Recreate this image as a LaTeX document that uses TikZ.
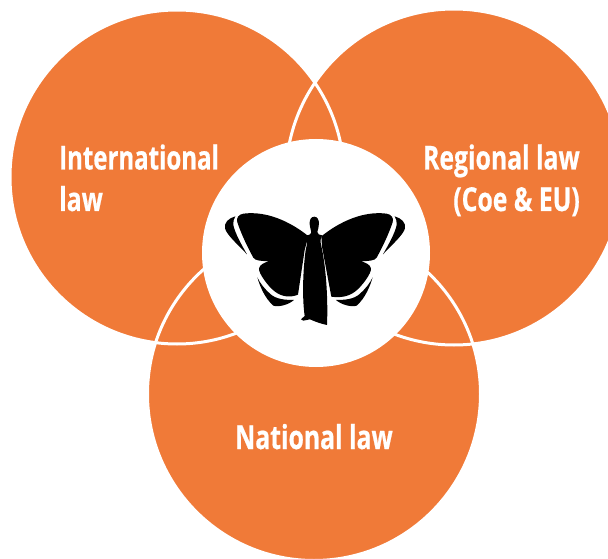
\documentclass[tikz,border=0pt]{standalone}
\usepackage{fontspec}
\setmainfont[FakeStretch=0.75,BoldFeatures={FakeBold=0.6}]{Open Sans}
\definecolor{lawor}{HTML}{F07A38}
\tikzset{
  lawcircle/.style={fill=lawor,draw=none},
  lawarc/.style={draw=white,line width=3pt},
  lawlabel/.style={text=white,font=\bfseries\fontsize{33}{40}\selectfont,inner sep=0pt},
  wing/.style={fill=black,draw=none}
}
% #1 lower end of the wing's inner edge, #2 upper end
\newcommand{\halfwings}[2]{%
  \fill[wing] (292,136) .. controls (240,95) and (170,62) .. (100,71)
    .. controls (85,73) and (78,85) .. (82,97)
    .. controls (95,135) and (112,170) .. (130,203)
    .. controls (135,212) and (155,214) .. (178,213)
    .. controls (165,218) and (150,222) .. (147,235)
    .. controls (145,250) and (175,290) .. (195,305)
    .. controls (215,320) and (240,324) .. (#1)
    -- (#2) -- (296,136) -- cycle;
  \fill[wing] (76,79) .. controls (55,85) and (42,98) .. (45,115)
    .. controls (50,135) and (85,165) .. (111,193)
    .. controls (95,165) and (75,130) .. (70,105)
    .. controls (69,95) and (71,87) .. (76,79) -- cycle;
  \fill[wing] (142,262) .. controls (150,290) and (165,325) .. (190,347)
    .. controls (205,352) and (235,345) .. (252,330)
    .. controls (225,330) and (200,328) .. (182,313)
    .. controls (165,298) and (150,280) .. (142,262) -- cycle;
}
\begin{document}
\begin{tikzpicture}[x=1pt,y=-1pt]
\useasboundingbox (0,0) rectangle (608,559);
\clip (0,0) rectangle (608,559);
\fill[white] (0,0) rectangle (608,559);
\fill[lawcircle] (177,177) circle[radius=167pt];
\fill[lawcircle] (454,177) circle[radius=168pt];
\fill[lawcircle] (314,394) circle[radius=166.5pt];
\draw[lawarc] (177,177) circle[radius=167pt];
\draw[lawarc] (454,177) circle[radius=168pt];
\draw[lawarc] (314,394) circle[radius=166.5pt];
\fill[white] (316,253) circle[radius=114pt];
\begin{scope}[shift={(210,190)},x=0.3333pt,y=-0.3333pt]
  \halfwings{264,314}{284,180}
  \begin{scope}[shift={(630,0)},x=-0.3333pt]
    \halfwings{266,320}{294,170}
  \end{scope}
  \fill[black] (313,80) .. controls (303,80) and (298,90) .. (299,102)
    .. controls (300,115) and (304,122) .. (304,128)
    .. controls (302,134) and (296,136) .. (290,136)
    .. controls (293,150) and (291,165) .. (287,180)
    .. controls (279,240) and (276,320) .. (284,378)
    -- (273,388) -- (280,392) -- (300,388)
    .. controls (315,395) and (335,402) .. (351,405)
    .. controls (354,340) and (350,240) .. (334,168)
    .. controls (331,155) and (330,145) .. (336,136)
    .. controls (328,136) and (323,132) .. (322,126)
    .. controls (324,118) and (327,110) .. (327,100)
    .. controls (327,90) and (322,80) .. (313,80) -- cycle;
\end{scope}
\node[lawlabel,anchor=base west,xscale=0.97] (intl1) at (59,169.5) {International};
\node[lawlabel,anchor=base west] (intl2) at (59,211) {law};
\node[lawlabel,anchor=base east] (reg1) at (580,169.5) {Regional law};
\node[lawlabel,anchor=base east] (reg2) at (580,211) {(Coe \& EU)};
\node[lawlabel,anchor=base] (nat) at (314,449) {National law};
\end{tikzpicture}
\end{document}
